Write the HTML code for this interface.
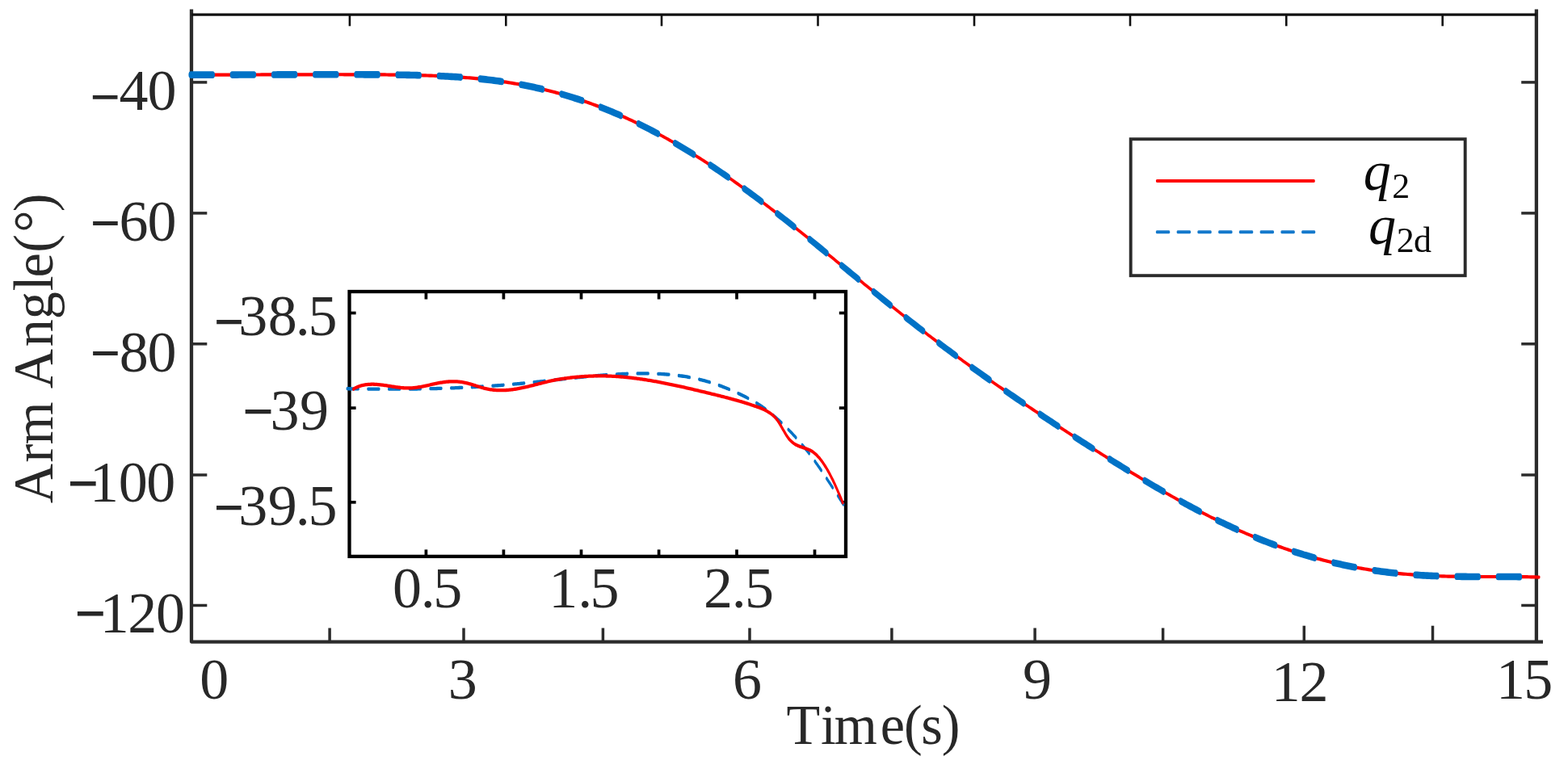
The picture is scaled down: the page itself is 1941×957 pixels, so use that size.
<!DOCTYPE html>
<html lang="en"><head><meta charset="utf-8"><title>Arm angle tracking</title>
<style>html,body{margin:0;padding:0;background:#fff;overflow:hidden}svg{display:block}text{font-family:"Liberation Serif","DejaVu Serif",serif;fill:#282828;white-space:pre}.mn{stroke:#282828}.lg{fill:#0a0a0a}</style></head><body>
<svg width="1941" height="957" viewBox="0 0 1941 957">
<rect x="0" y="0" width="1941" height="957" fill="#ffffff"/>
<g>
<g stroke="#2b2b2b" stroke-width="4.3" fill="none">
<path d="M237 11.5 L237 794.6 L1910 794.6" stroke-linejoin="round"/>
<line x1="1901.9" y1="11.5" x2="1901.9" y2="794.6"/>
</g>
<line x1="237" y1="18.1" x2="1901.9" y2="18.1" stroke="#111" stroke-width="3.1"/>
<g stroke="#111" stroke-width="2.6">
<line x1="432.9" y1="18.1" x2="432.9" y2="32.3"/>
<line x1="626.3" y1="18.1" x2="626.3" y2="32.3"/>
<line x1="819" y1="18.1" x2="819" y2="32.3"/>
<line x1="1012.5" y1="18.1" x2="1012.5" y2="32.3"/>
<line x1="1206" y1="18.1" x2="1206" y2="32.3"/>
<line x1="1399" y1="18.1" x2="1399" y2="32.3"/>
<line x1="1592.3" y1="18.1" x2="1592.3" y2="32.3"/>
<line x1="1785.7" y1="18.1" x2="1785.7" y2="32.3"/>
</g>
<g stroke="#2b2b2b" stroke-width="3.5">
<line x1="408.1" y1="777.5" x2="408.1" y2="794.6"/>
<line x1="574" y1="777.5" x2="574" y2="794.6"/>
<line x1="746.4" y1="777.5" x2="746.4" y2="794.6"/>
<line x1="928" y1="777.5" x2="928" y2="794.6"/>
<line x1="1103.9" y1="777.5" x2="1103.9" y2="794.6"/>
<line x1="1281.1" y1="777.5" x2="1281.1" y2="794.6"/>
<line x1="1439.6" y1="777.5" x2="1439.6" y2="794.6"/>
<line x1="1614.3" y1="774.7" x2="1614.3" y2="794.6"/>
<line x1="1773.5" y1="774.7" x2="1773.5" y2="794.6"/>
<line x1="237" y1="101.9" x2="256.3" y2="101.9"/>
<line x1="1883.2" y1="101.9" x2="1901.9" y2="101.9"/>
<line x1="237" y1="263.9" x2="256.3" y2="263.9"/>
<line x1="1883.2" y1="263.9" x2="1901.9" y2="263.9"/>
<line x1="237" y1="425.8" x2="256.3" y2="425.8"/>
<line x1="1883.2" y1="425.8" x2="1901.9" y2="425.8"/>
<line x1="237" y1="588" x2="256.3" y2="588"/>
<line x1="1883.2" y1="588" x2="1901.9" y2="588"/>
<line x1="237" y1="749.5" x2="256.3" y2="749.5"/>
<line x1="1883.2" y1="749.5" x2="1901.9" y2="749.5"/>
</g>
<path d="M236.2 59.75 L238.7 59.75 L241.2 59.76 L243.7 59.76 L246.2 59.76 L248.7 59.77 L251.2 59.77 L253.7 59.77 L256.2 59.77 L258.7 59.77 L261.2 59.77 L263.7 59.77 L266.2 59.77 L268.7 59.76 L271.2 59.76 L273.7 59.76 L276.2 59.76 L278.7 59.75 L281.2 59.75 L283.7 59.74 L286.2 59.74 L288.7 59.74 L291.2 59.73 L293.8 59.73 L296.3 59.72 L298.8 59.72 L301.3 59.71 L303.8 59.71 L306.3 59.7 L308.8 59.7 L311.3 59.69 L313.8 59.69 L316.3 59.68 L318.8 59.68 L321.3 59.67 L323.8 59.66 L326.3 59.66 L328.8 59.65 L331.3 59.65 L333.8 59.64 L336.3 59.64 L338.8 59.63 L341.3 59.63 L343.8 59.62 L346.3 59.62 L348.8 59.61 L351.3 59.61 L353.8 59.61 L356.3 59.6 L358.8 59.6 L361.3 59.59 L363.8 59.59 L366.3 59.58 L368.8 59.58 L371.3 59.58 L373.8 59.57 L376.3 59.57 L378.8 59.57 L381.3 59.56 L383.8 59.56 L386.3 59.56 L388.8 59.55 L391.3 59.55 L393.8 59.55 L396.3 59.55 L398.8 59.54 L401.3 59.54 L403.9 59.54 L406.4 59.54 L408.9 59.54 L411.4 59.54 L413.9 59.53 L416.4 59.53 L418.9 59.53 L421.4 59.53 L423.9 59.53 L426.4 59.54 L428.9 59.54 L431.4 59.54 L433.9 59.54 L436.4 59.54 L438.9 59.55 L441.4 59.55 L443.9 59.55 L446.4 59.56 L448.9 59.56 L451.4 59.57 L453.9 59.57 L456.4 59.58 L458.9 59.59 L461.4 59.6 L463.9 59.61 L466.4 59.62 L468.9 59.63 L471.4 59.64 L473.9 59.65 L476.4 59.66 L478.9 59.68 L481.4 59.7 L483.9 59.71 L486.4 59.73 L488.9 59.75 L491.4 59.77 L493.9 59.8 L496.4 59.82 L498.9 59.85 L501.4 59.87 L503.9 59.9 L506.4 59.94 L508.9 59.97 L511.4 60 L513.9 60.04 L516.5 60.08 L519 60.12 L521.5 60.17 L524 60.21 L526.5 60.26 L529 60.32 L531.5 60.37 L534 60.43 L536.5 60.49 L539 60.55 L541.5 60.62 L544 60.69 L546.5 60.77 L549 60.84 L551.5 60.92 L554 61.01 L556.5 61.1 L559 61.19 L561.5 61.29 L564 61.39 L566.5 61.49 L569 61.6 L571.5 61.72 L574 61.84 L576.5 61.96 L579 62.09 L581.5 62.23 L584 62.36 L586.5 62.51 L589 62.66 L591.5 62.81 L594 62.97 L596.5 63.14 L599 63.31 L601.5 63.49 L604 63.68 L606.5 63.87 L609 64.06 L611.5 64.27 L614 64.47 L616.5 64.69 L619 64.91 L621.5 65.14 L624 65.38 L626.6 65.62 L629.1 65.87 L631.6 66.13 L634.1 66.39 L636.6 66.66 L639.1 66.94 L641.6 67.22 L644.1 67.51 L646.6 67.81 L649.1 68.12 L651.6 68.44 L654.1 68.76 L656.6 69.09 L659.1 69.43 L661.6 69.77 L664.1 70.13 L666.6 70.49 L669.1 70.86 L671.6 71.23 L674.1 71.62 L676.6 72.01 L679.1 72.41 L681.6 72.82 L684.1 73.24 L686.6 73.67 L689.1 74.1 L691.6 74.55 L694.1 75 L696.6 75.46 L699.1 75.92 L701.6 76.4 L704.1 76.88 L706.6 77.38 L709.1 77.88 L711.6 78.39 L714.1 78.91 L716.6 79.44 L719.1 79.97 L721.6 80.52 L724.1 81.07 L726.6 81.63 L729.1 82.2 L731.6 82.78 L734.1 83.37 L736.6 83.96 L739.2 84.57 L741.7 85.18 L744.2 85.8 L746.7 86.44 L749.2 87.08 L751.7 87.72 L754.2 88.38 L756.7 89.05 L759.2 89.72 L761.7 90.4 L764.2 91.09 L766.7 91.8 L769.2 92.5 L771.7 93.22 L774.2 93.95 L776.7 94.68 L779.2 95.43 L781.7 96.18 L784.2 96.94 L786.7 97.71 L789.2 98.48 L791.7 99.27 L794.2 100.06 L796.7 100.87 L799.2 101.68 L801.7 102.5 L804.2 103.32 L806.7 104.16 L809.2 105.01 L811.7 105.86 L814.2 106.72 L816.7 107.59 L819.2 108.47 L821.7 109.35 L824.2 110.25 L826.7 111.15 L829.2 112.06 L831.7 112.97 L834.2 113.9 L836.7 114.83 L839.2 115.78 L841.7 116.73 L844.2 117.68 L846.7 118.65 L849.3 119.62 L851.8 120.6 L854.3 121.59 L856.8 122.58 L859.3 123.59 L861.8 124.6 L864.3 125.62 L866.8 126.64 L869.3 127.67 L871.8 128.71 L874.3 129.76 L876.8 130.82 L879.3 131.88 L881.8 132.95 L884.3 134.02 L886.8 135.1 L889.3 136.19 L891.8 137.29 L894.3 138.39 L896.8 139.5 L899.3 140.62 L901.8 141.74 L904.3 142.87 L906.8 144 L909.3 145.14 L911.8 146.29 L914.3 147.44 L916.8 148.6 L919.3 149.77 L921.8 150.94 L924.3 152.12 L926.8 153.3 L929.3 154.49 L931.8 155.68 L934.3 156.88 L936.8 158.09 L939.3 159.3 L941.8 160.51 L944.3 161.73 L946.8 162.96 L949.3 164.19 L951.8 165.42 L954.3 166.66 L956.8 167.9 L959.3 169.15 L961.9 170.41 L964.4 171.66 L966.9 172.92 L969.4 174.19 L971.9 175.46 L974.4 176.73 L976.9 178.01 L979.4 179.29 L981.9 180.57 L984.4 181.86 L986.9 183.14 L989.4 184.44 L991.9 185.73 L994.4 187.03 L996.9 188.33 L999.4 189.64 L1001.9 190.94 L1004.4 192.25 L1006.9 193.56 L1009.4 194.87 L1011.9 196.19 L1014.4 197.5 L1016.9 198.82 L1019.4 200.14 L1021.9 201.46 L1024.4 202.78 L1026.9 204.1 L1029.4 205.43 L1031.9 206.75 L1034.4 208.08 L1036.9 209.4 L1039.4 210.73 L1041.9 212.06 L1044.4 213.38 L1046.9 214.71 L1049.4 216.04 L1051.9 217.36 L1054.4 218.69 L1056.9 220.01 L1059.4 221.34 L1061.9 222.66 L1064.4 223.99 L1066.9 225.31 L1069.4 226.63 L1072 227.95 L1074.5 229.27 L1077 230.59 L1079.5 231.9 L1082 233.22 L1084.5 234.53 L1087 235.84 L1089.5 237.15 L1092 238.46 L1094.5 239.76 L1097 241.06 L1099.5 242.36 L1102 243.66 L1104.5 244.96 L1107 246.25 L1109.5 247.54 L1112 248.82 L1114.5 250.11 L1117 251.39 L1119.5 252.67 L1122 253.94 L1124.5 255.21 L1127 256.48 L1129.5 257.75 L1132 259.01 L1134.5 260.27 L1137 261.53 L1139.5 262.78 L1142 264.03 L1144.5 265.27 L1147 266.52 L1149.5 267.75 L1152 268.99 L1154.5 270.22 L1157 271.45 L1159.5 272.67 L1162 273.89 L1164.5 275.11 L1167 276.32 L1169.5 277.53 L1172 278.74 L1174.5 279.94 L1177 281.14 L1179.5 282.34 L1182.1 283.53 L1184.6 284.72 L1187.1 285.9 L1189.6 287.08 L1192.1 288.26 L1194.6 289.43 L1197.1 290.6 L1199.6 291.77 L1202.1 292.94 L1204.6 294.1 L1207.1 295.25 L1209.6 296.41 L1212.1 297.56 L1214.6 298.71 L1217.1 299.85 L1219.6 300.99 L1222.1 302.13 L1224.6 303.27 L1227.1 304.4 L1229.6 305.53 L1232.1 306.65 L1234.6 307.78 L1237.1 308.9 L1239.6 310.01 L1242.1 311.13 L1244.6 312.24 L1247.1 313.35 L1249.6 314.46 L1252.1 315.56 L1254.6 316.66 L1257.1 317.76 L1259.6 318.86 L1262.1 319.95 L1264.6 321.04 L1267.1 322.13 L1269.6 323.22 L1272.1 324.31 L1274.6 325.39 L1277.1 326.47 L1279.6 327.55 L1282.1 328.62 L1284.6 329.7 L1287.1 330.77 L1289.6 331.84 L1292.1 332.91 L1294.7 333.98 L1297.2 335.04 L1299.7 336.1 L1302.2 337.16 L1304.7 338.22 L1307.2 339.28 L1309.7 340.33 L1312.2 341.39 L1314.7 342.44 L1317.2 343.49 L1319.7 344.54 L1322.2 345.59 L1324.7 346.63 L1327.2 347.67 L1329.7 348.72 L1332.2 349.76 L1334.7 350.8 L1337.2 351.83 L1339.7 352.87 L1342.2 353.9 L1344.7 354.93 L1347.2 355.96 L1349.7 356.99 L1352.2 358.02 L1354.7 359.04 L1357.2 360.06 L1359.7 361.08 L1362.2 362.1 L1364.7 363.12 L1367.2 364.13 L1369.7 365.15 L1372.2 366.16 L1374.7 367.16 L1377.2 368.17 L1379.7 369.18 L1382.2 370.18 L1384.7 371.18 L1387.2 372.17 L1389.7 373.17 L1392.2 374.16 L1394.7 375.15 L1397.2 376.13 L1399.7 377.12 L1402.2 378.1 L1404.8 379.08 L1407.3 380.05 L1409.8 381.02 L1412.3 381.99 L1414.8 382.96 L1417.3 383.92 L1419.8 384.88 L1422.3 385.84 L1424.8 386.79 L1427.3 387.74 L1429.8 388.68 L1432.3 389.62 L1434.8 390.56 L1437.3 391.49 L1439.8 392.42 L1442.3 393.35 L1444.8 394.27 L1447.3 395.19 L1449.8 396.1 L1452.3 397.01 L1454.8 397.91 L1457.3 398.81 L1459.8 399.71 L1462.3 400.59 L1464.8 401.48 L1467.3 402.36 L1469.8 403.23 L1472.3 404.1 L1474.8 404.97 L1477.3 405.83 L1479.8 406.68 L1482.3 407.53 L1484.8 408.37 L1487.3 409.21 L1489.8 410.04 L1492.3 410.87 L1494.8 411.69 L1497.3 412.5 L1499.8 413.31 L1502.3 414.11 L1504.8 414.91 L1507.3 415.7 L1509.8 416.48 L1512.3 417.26 L1514.8 418.03 L1517.4 418.8 L1519.9 419.56 L1522.4 420.31 L1524.9 421.06 L1527.4 421.79 L1529.9 422.53 L1532.4 423.25 L1534.9 423.97 L1537.4 424.68 L1539.9 425.39 L1542.4 426.09 L1544.9 426.78 L1547.4 427.46 L1549.9 428.14 L1552.4 428.81 L1554.9 429.48 L1557.4 430.13 L1559.9 430.78 L1562.4 431.42 L1564.9 432.06 L1567.4 432.69 L1569.9 433.31 L1572.4 433.92 L1574.9 434.53 L1577.4 435.13 L1579.9 435.72 L1582.4 436.3 L1584.9 436.88 L1587.4 437.45 L1589.9 438.02 L1592.4 438.57 L1594.9 439.12 L1597.4 439.66 L1599.9 440.19 L1602.4 440.72 L1604.9 441.24 L1607.4 441.75 L1609.9 442.26 L1612.4 442.75 L1614.9 443.24 L1617.4 443.72 L1619.9 444.2 L1622.4 444.67 L1624.9 445.13 L1627.5 445.58 L1630 446.02 L1632.5 446.46 L1635 446.89 L1637.5 447.32 L1640 447.73 L1642.5 448.14 L1645 448.54 L1647.5 448.94 L1650 449.32 L1652.5 449.7 L1655 450.07 L1657.5 450.44 L1660 450.8 L1662.5 451.15 L1665 451.49 L1667.5 451.82 L1670 452.15 L1672.5 452.47 L1675 452.79 L1677.5 453.1 L1680 453.4 L1682.5 453.69 L1685 453.97 L1687.5 454.25 L1690 454.52 L1692.5 454.79 L1695 455.05 L1697.5 455.3 L1700 455.54 L1702.5 455.78 L1705 456.01 L1707.5 456.23 L1710 456.45 L1712.5 456.66 L1715 456.86 L1717.5 457.06 L1720 457.25 L1722.5 457.44 L1725 457.62 L1727.5 457.79 L1730 457.95 L1732.5 458.11 L1735 458.27 L1737.5 458.42 L1740.1 458.56 L1742.6 458.7 L1745.1 458.83 L1747.6 458.95 L1750.1 459.07 L1752.6 459.18 L1755.1 459.29 L1757.6 459.4 L1760.1 459.5 L1762.6 459.59 L1765.1 459.68 L1767.6 459.76 L1770.1 459.84 L1772.6 459.91 L1775.1 459.98 L1777.6 460.05 L1780.1 460.11 L1782.6 460.17 L1785.1 460.22 L1787.6 460.27 L1790.1 460.32 L1792.6 460.36 L1795.1 460.4 L1797.6 460.43 L1800.1 460.46 L1802.6 460.49 L1805.1 460.52 L1807.6 460.54 L1810.1 460.56 L1812.6 460.58 L1815.1 460.59 L1817.6 460.61 L1820.1 460.62 L1822.6 460.63 L1825.1 460.63 L1827.6 460.64 L1830.1 460.64 L1832.6 460.65 L1835.1 460.65 L1837.6 460.65 L1840.1 460.65 L1842.6 460.65 L1845.1 460.65 L1847.6 460.65 L1850.2 460.65 L1852.7 460.65 L1855.2 460.65 L1857.7 460.65 L1860.2 460.65 L1862.7 460.65 L1865.2 460.65 L1867.7 460.66 L1870.2 460.67 L1872.7 460.67 L1875.2 460.68 L1877.7 460.69 L1880.2 460.71 L1882.7 460.72 L1885.2 460.74 L1887.7 460.77 L1890.2 460.79 L1892.7 460.82 L1895.2 460.85 L1897.7 460.89 L1900.2 460.93 L1902.7 460.97 L1905.2 461.02" fill="none" stroke="#ff0000" stroke-width="2.71" stroke-linecap="round" stroke-linejoin="round" transform="scale(1,1.55)"/>
<path d="M236.2 59.75 L238.7 59.75 L241.2 59.76 L243.7 59.76 L246.2 59.76 L248.7 59.77 L251.2 59.77 L253.7 59.77 L256.2 59.77 L258.7 59.77 L261.2 59.77 L263.2 59.77M287.4 59.74 L288.7 59.74 L291.2 59.73 L293.7 59.73 L296.2 59.72 L298.7 59.72 L301.2 59.71 L303.7 59.71 L306.2 59.7 L308.7 59.7 L311.2 59.69 L313.7 59.69 L314.4 59.68M338.6 59.63 L338.7 59.63 L341.3 59.63 L343.8 59.62 L346.3 59.62 L348.8 59.61 L351.3 59.61 L353.8 59.61 L356.3 59.6 L358.8 59.6 L361.3 59.59 L363.8 59.59 L365.6 59.59M389.8 59.55 L391.3 59.55 L393.8 59.55 L396.3 59.55 L398.8 59.54 L401.3 59.54 L403.8 59.54 L406.3 59.54 L408.8 59.54 L411.3 59.54 L413.8 59.54 L416.3 59.53 L416.8 59.53M441 59.55 L441.3 59.55 L443.8 59.55 L446.3 59.56 L448.8 59.56 L451.3 59.57 L453.8 59.57 L456.3 59.58 L458.8 59.59 L461.3 59.6 L463.8 59.6 L466.3 59.61 L468 59.62M492.2 59.78 L493.8 59.8 L496.3 59.82 L498.8 59.85 L501.3 59.87 L503.8 59.9 L506.3 59.93 L508.8 59.97 L511.3 60 L513.8 60.04 L516.3 60.08 L518.8 60.12 L519.2 60.13M543.4 60.67 L543.8 60.69 L546.3 60.76 L548.9 60.84 L551.4 60.92 L553.9 61 L556.4 61.09 L558.9 61.19 L561.4 61.28 L563.9 61.38 L566.4 61.49 L568.9 61.6 L570.3 61.67M594.4 63 L596.4 63.13 L598.9 63.3 L601.4 63.48 L603.9 63.66 L606.4 63.85 L608.9 64.05 L611.4 64.25 L613.9 64.46 L616.4 64.68 L618.9 64.9 L621.2 65.11M645.1 67.64 L646.4 67.79 L648.9 68.1 L651.4 68.41 L653.9 68.74 L656.4 69.07 L658.9 69.4 L661.4 69.75 L663.9 70.1 L666.4 70.46 L668.9 70.83 L671.4 71.21 L671.5 71.23M695 75.15 L696.4 75.42 L698.9 75.89 L701.4 76.36 L703.9 76.85 L706.4 77.34 L708.9 77.84 L711.4 78.35 L713.9 78.87 L716.4 79.39 L718.9 79.93 L720.7 80.32M743.5 85.64 L743.9 85.75 L746.4 86.38 L748.9 87.02 L751.4 87.67 L753.9 88.32 L756.4 88.99 L759 89.66 L761.5 90.34 L764 91.03 L766.5 91.73 L768.4 92.29M790.4 98.86 L791.5 99.2 L794 99.99 L796.5 100.79 L799 101.6 L801.5 102.42 L804 103.25 L806.5 104.08 L809 104.92 L811.5 105.78 L814 106.64 L814.4 106.79M835.6 114.4 L836.5 114.74 L839 115.68 L841.5 116.63 L844 117.58 L846.5 118.55 L849 119.52 L851.5 120.5 L854 121.49 L856.5 122.48 L858.7 123.37M879.1 131.79 L881.5 132.83 L884 133.9 L886.5 134.99 L889 136.07 L891.5 137.17 L894 138.27 L896.5 139.38 L899 140.49 L901.4 141.57M921.1 150.62 L921.5 150.81 L924 151.98 L926.5 153.16 L929 154.35 L931.5 155.54 L934 156.74 L936.5 157.95 L939 159.15 L941.5 160.37 L942.8 161M962 170.5 L964 171.51 L966.6 172.77 L969.1 174.03 L971.6 175.3 L974.1 176.57 L976.6 177.85 L979.1 179.13 L981.6 180.41 L983.2 181.28M1002.1 191.06 L1004.1 192.08 L1006.6 193.39 L1009.1 194.7 L1011.6 196.02 L1014.1 197.33 L1016.6 198.65 L1019.1 199.97 L1021.6 201.29 L1023 202.06M1041.7 211.96 L1044.1 213.2 L1046.6 214.53 L1049.1 215.86 L1051.6 217.18 L1054.1 218.51 L1056.6 219.83 L1059.1 221.16 L1061.6 222.48 L1062.6 223.02M1081.4 232.9 L1081.6 233.03 L1084.1 234.34 L1086.6 235.65 L1089.1 236.96 L1091.6 238.27 L1094.1 239.57 L1096.6 240.88 L1099.1 242.18 L1101.6 243.47 L1102.3 243.85M1121.3 253.58 L1121.6 253.75 L1124.1 255.03 L1126.6 256.29 L1129.1 257.56 L1131.6 258.82 L1134.1 260.08 L1136.6 261.34 L1139.1 262.59 L1141.6 263.84 L1142.6 264.3M1161.8 273.77 L1164.1 274.92 L1166.6 276.13 L1169.1 277.34 L1171.6 278.55 L1174.2 279.75 L1176.7 280.95 L1179.2 282.15 L1181.7 283.34 L1183.4 284.19M1203 293.37 L1204.2 293.91 L1206.7 295.07 L1209.2 296.22 L1211.7 297.37 L1214.2 298.52 L1216.7 299.66 L1219.2 300.8 L1221.7 301.94 L1224.2 303.08 L1225 303.46M1244.9 312.37 L1246.7 313.16 L1249.2 314.27 L1251.7 315.37 L1254.2 316.47 L1256.7 317.57 L1259.2 318.67 L1261.7 319.76 L1264.2 320.86 L1266.7 321.95 L1267.2 322.17M1287.3 330.85 L1289.2 331.65 L1291.7 332.72 L1294.2 333.79 L1296.7 334.85 L1299.2 335.91 L1301.7 336.97 L1304.2 338.03 L1306.7 339.09 L1309.2 340.15 L1309.9 340.43M1330.2 348.92 L1331.7 349.57 L1334.2 350.6 L1336.7 351.64 L1339.2 352.68 L1341.7 353.71 L1344.2 354.74 L1346.7 355.77 L1349.2 356.8 L1351.7 357.82 L1352.9 358.31M1373.4 366.63 L1374.2 366.97 L1376.7 367.98 L1379.2 368.98 L1381.8 369.98 L1384.3 370.98 L1386.8 371.98 L1389.3 372.98 L1391.8 373.97 L1394.3 374.96 L1396.4 375.79M1417.1 383.86 L1419.3 384.69 L1421.8 385.65 L1424.3 386.6 L1426.8 387.55 L1429.3 388.49 L1431.8 389.44 L1434.3 390.37 L1436.8 391.31 L1439.3 392.24 L1440.4 392.65M1461.5 400.31 L1461.8 400.41 L1464.3 401.3 L1466.8 402.18 L1469.3 403.05 L1471.8 403.92 L1474.3 404.79 L1476.8 405.65 L1479.3 406.5 L1481.8 407.35 L1484.3 408.2 L1485.3 408.53M1506.9 415.56 L1509.3 416.32 L1511.8 417.1 L1514.3 417.87 L1516.8 418.64 L1519.3 419.4 L1521.8 420.15 L1524.3 420.9 L1526.8 421.64 L1529.3 422.37 L1531.3 422.96M1553.6 429.13 L1554.3 429.33 L1556.8 429.99 L1559.3 430.64 L1561.8 431.28 L1564.3 431.92 L1566.8 432.55 L1569.3 433.17 L1571.8 433.79 L1574.3 434.39 L1576.8 434.99 L1578.7 435.44M1601.6 440.55 L1601.9 440.6 L1604.4 441.12 L1606.9 441.63 L1609.4 442.14 L1611.9 442.64 L1614.4 443.13 L1616.9 443.61 L1619.4 444.09 L1621.9 444.56 L1624.4 445.02 L1626.9 445.47 L1627.4 445.58M1650.9 449.46 L1651.9 449.61 L1654.4 449.99 L1656.9 450.35 L1659.4 450.71 L1661.9 451.06 L1664.4 451.41 L1666.9 451.75 L1669.4 452.08 L1671.9 452.4 L1674.4 452.71 L1676.9 453.02 L1677.3 453.07M1701.2 455.65 L1701.9 455.72 L1704.4 455.95 L1706.9 456.18 L1709.4 456.4 L1711.9 456.61 L1714.4 456.82 L1716.9 457.01 L1719.4 457.21 L1721.9 457.39 L1724.4 457.57 L1726.9 457.75 L1727.9 457.82M1752.1 459.16 L1754.4 459.27 L1756.9 459.37 L1759.4 459.47 L1761.9 459.57 L1764.4 459.66 L1766.9 459.74 L1769.4 459.82 L1771.9 459.9 L1774.4 459.97 L1776.9 460.03 L1779 460.09M1803.2 460.5 L1804.5 460.51 L1807 460.53 L1809.5 460.55 L1812 460.57 L1814.5 460.59 L1817 460.6 L1819.5 460.61 L1822 460.62 L1824.5 460.63 L1827 460.64 L1829.5 460.64 L1830.2 460.64M1854.4 460.65 L1854.5 460.65 L1857 460.65 L1859.5 460.65 L1862 460.65 L1864.5 460.65 L1867 460.66 L1869.5 460.66 L1872 460.67 L1874.5 460.68 L1877 460.69 L1879.5 460.7 L1881.4 460.72" fill="none" stroke="#0072c6" stroke-width="5.55" stroke-linecap="round" stroke-linejoin="round" transform="scale(1,1.55)"/>
<g stroke="#000" fill="none">
<rect x="432.5" y="361" width="614.5" height="327.9" stroke-width="4.3"/>
<g stroke-width="3.7">
<line x1="527.4" y1="361" x2="527.4" y2="370.5"/>
<line x1="527.4" y1="680.4" x2="527.4" y2="688.9"/>
<line x1="623.4" y1="361" x2="623.4" y2="370.5"/>
<line x1="623.4" y1="680.4" x2="623.4" y2="688.9"/>
<line x1="719.5" y1="361" x2="719.5" y2="370.5"/>
<line x1="719.5" y1="680.4" x2="719.5" y2="688.9"/>
<line x1="815.6" y1="361" x2="815.6" y2="370.5"/>
<line x1="815.6" y1="680.4" x2="815.6" y2="688.9"/>
<line x1="912" y1="361" x2="912" y2="370.5"/>
<line x1="912" y1="680.4" x2="912" y2="688.9"/>
<line x1="1008.5" y1="361" x2="1008.5" y2="370.5"/>
<line x1="1008.5" y1="680.4" x2="1008.5" y2="688.9"/>
<line x1="432.5" y1="387.5" x2="440.6" y2="387.5"/>
<line x1="1038.8" y1="387.5" x2="1047" y2="387.5"/>
<line x1="432.5" y1="505.1" x2="440.6" y2="505.1"/>
<line x1="1038.8" y1="505.1" x2="1047" y2="505.1"/>
<line x1="432.5" y1="621.8" x2="440.6" y2="621.8"/>
<line x1="1041.5" y1="621.8" x2="1047" y2="621.8"/>
</g></g>
<path d="M429.9 310.46 L431.4 310.47 L433 310.49 L434.5 310.51 L436.1 310.53 L437.6 310.54 L439.1 310.56 L440.7 310.57 L442.2 310.59 L443.5 310.6M455.6 310.69 L456.1 310.7 L457.6 310.71 L459.1 310.72 L460.7 310.72 L462.2 310.73 L463.8 310.74 L465.3 310.75 L466.8 310.75 L468.4 310.76 L469.2 310.76M481.3 310.79 L482.2 310.79 L483.8 310.79 L485.3 310.79 L486.8 310.79 L488.4 310.79 L489.9 310.78 L491.5 310.78 L493 310.78 L494.5 310.77 L494.9 310.77M507 310.71 L508.4 310.7 L509.9 310.69 L511.5 310.68 L513 310.67 L514.6 310.66 L516.1 310.64 L517.6 310.63 L519.2 310.61 L520.6 310.6M532.7 310.44 L533 310.44 L534.6 310.42 L536.1 310.39 L537.6 310.37 L539.2 310.34 L540.7 310.32 L542.3 310.29 L543.8 310.26 L545.3 310.23 L546.3 310.21M558.4 309.95 L559.2 309.93 L560.7 309.9 L562.3 309.86 L563.8 309.82 L565.3 309.78 L566.9 309.74 L568.4 309.69 L570 309.65 L571.5 309.61 L572 309.59M584.1 309.21 L585.3 309.17 L586.9 309.12 L588.4 309.06 L590 309.01 L591.5 308.95 L593 308.89 L594.6 308.83 L596.1 308.78 L597.6 308.72M609.7 308.2 L610 308.19 L611.5 308.12 L613.1 308.05 L614.6 307.98 L616.1 307.91 L617.7 307.83 L619.2 307.76 L620.7 307.68 L622.3 307.6 L623.3 307.55M635.3 306.9 L636.1 306.85 L637.7 306.76 L639.2 306.67 L640.8 306.58 L642.3 306.49 L643.8 306.4 L645.4 306.3 L646.9 306.2 L648.5 306.11 L648.9 306.08M660.9 305.29 L662.3 305.19 L663.8 305.09 L665.4 304.98 L666.9 304.87 L668.5 304.77 L670 304.66 L671.5 304.55 L673.1 304.44 L674.4 304.35M686.5 303.49 L686.9 303.46 L688.5 303.35 L690 303.24 L691.5 303.13 L693.1 303.02 L694.6 302.91 L696.2 302.8 L697.7 302.69 L699.2 302.59 L700 302.54M712 301.71 L713.1 301.64 L714.6 301.53 L716.2 301.43 L717.7 301.33 L719.3 301.23 L720.8 301.13 L722.3 301.03 L723.9 300.94 L725.4 300.84 L725.5 300.83M737.6 300.13 L737.7 300.12 L739.3 300.04 L740.8 299.95 L742.3 299.87 L743.9 299.79 L745.4 299.71 L747 299.64 L748.5 299.56 L750 299.49 L751.1 299.44M763.2 298.94 L763.9 298.92 L765.4 298.87 L767 298.82 L768.5 298.77 L770 298.72 L771.6 298.68 L773.1 298.64 L774.7 298.6 L776.2 298.56 L776.8 298.55M788.9 298.36 L790 298.35 L791.6 298.34 L793.1 298.34 L794.7 298.33 L796.2 298.33 L797.7 298.33 L799.3 298.34 L800.8 298.35 L802.4 298.36 L802.5 298.36M814.6 298.59 L814.7 298.6 L816.2 298.64 L817.8 298.69 L819.3 298.75 L820.8 298.81 L822.4 298.88 L823.9 298.95 L825.4 299.02 L827 299.1 L828.2 299.17M840.2 300 L840.8 300.06 L842.4 300.19 L843.9 300.33 L845.5 300.48 L847 300.63 L848.5 300.79 L850.1 300.96 L851.6 301.13 L853.2 301.31 L853.6 301.37M865.5 302.99 L867 303.23 L868.5 303.48 L870.1 303.74 L871.6 304 L873.2 304.27 L874.7 304.55 L876.2 304.84 L877.8 305.14 L878.6 305.3M890.1 307.78 L890.1 307.78 L891.6 308.15 L893.2 308.52 L894.7 308.9 L896.2 309.28 L897.8 309.67 L899.3 310.07 L900.9 310.48 L902.4 310.89 L902.7 310.98M913.8 314.15 L914.7 314.44 L916.3 314.91 L917.8 315.39 L919.3 315.88 L920.9 316.37 L922.4 316.87 L924 317.37 L925.5 317.89 L926 318.05M936.5 321.89 L937.8 322.42 L939.3 323.05 L940.9 323.7 L942.4 324.37 L944 325.05 L945.5 325.76 L947 326.48 L947.7 326.82M957.2 331.69 L957.8 332.04 L959.3 332.9 L960.9 333.77 L962.4 334.66 L964 335.57 L965.5 336.49 L967 337.42 L967.3 337.57M975.9 343.06 L976.3 343.33 L977.8 344.36 L979.4 345.4 L980.9 346.46 L982.4 347.52 L984 348.6 L985.2 349.46M993.1 355.34 L993.2 355.4 L994.7 356.6 L996.3 357.82 L997.8 359.06 L999.4 360.32 L1000.9 361.61 L1001.6 362.2M1008.8 368.48 L1010.1 369.7 L1011.7 371.11 L1013.2 372.53 L1014.8 373.97 L1016.3 375.42 L1016.6 375.68M1023.3 382.17 L1024 382.84 L1025.5 384.35 L1027.1 385.87 L1028.6 387.39 L1030.1 388.92 L1030.7 389.51M1037.3 396.08 L1037.8 396.64 L1039.4 398.19 L1040.9 399.73 L1042.5 401.28 L1044 402.83" fill="none" stroke="#0072c6" stroke-width="2.77" stroke-linecap="round" stroke-linejoin="round" transform="scale(1,1.55)"/>
<path d="M437.4 310.75 L438.6 310.3 L439.8 309.88 L441 309.5 L442.3 309.15 L443.5 308.83 L444.7 308.53 L445.9 308.27 L447.1 308.03 L448.3 307.83 L449.5 307.64 L450.8 307.48 L452 307.34 L453.2 307.23 L454.4 307.13 L455.6 307.06 L456.8 307 L458 306.96 L459.3 306.93 L460.5 306.92 L461.7 306.92 L462.9 306.94 L464.1 306.97 L465.3 307.01 L466.5 307.06 L467.8 307.12 L469 307.19 L470.2 307.27 L471.4 307.35 L472.6 307.45 L473.8 307.55 L475 307.66 L476.2 307.77 L477.5 307.88 L478.7 308 L479.9 308.12 L481.1 308.25 L482.3 308.37 L483.5 308.5 L484.7 308.62 L486 308.74 L487.2 308.87 L488.4 308.99 L489.6 309.1 L490.8 309.21 L492 309.32 L493.2 309.42 L494.5 309.52 L495.7 309.61 L496.9 309.69 L498.1 309.76 L499.3 309.83 L500.5 309.88 L501.7 309.93 L503 309.96 L504.2 309.98 L505.4 309.98 L506.6 309.98 L507.8 309.96 L509 309.92 L510.2 309.87 L511.5 309.81 L512.7 309.73 L513.9 309.65 L515.1 309.55 L516.3 309.44 L517.5 309.32 L518.7 309.19 L520 309.06 L521.2 308.92 L522.4 308.77 L523.6 308.61 L524.8 308.45 L526 308.29 L527.2 308.12 L528.5 307.95 L529.7 307.78 L530.9 307.6 L532.1 307.42 L533.3 307.25 L534.5 307.07 L535.7 306.9 L537 306.72 L538.2 306.55 L539.4 306.39 L540.6 306.22 L541.8 306.06 L543 305.91 L544.2 305.77 L545.4 305.63 L546.7 305.5 L547.9 305.37 L549.1 305.26 L550.3 305.16 L551.5 305.06 L552.7 304.98 L553.9 304.9 L555.2 304.84 L556.4 304.79 L557.6 304.75 L558.8 304.72 L560 304.71 L561.2 304.7 L562.4 304.71 L563.7 304.73 L564.9 304.76 L566.1 304.81 L567.3 304.87 L568.5 304.94 L569.7 305.03 L570.9 305.13 L572.2 305.25 L573.4 305.38 L574.6 305.53 L575.8 305.69 L577 305.86 L578.2 306.05 L579.4 306.25 L580.7 306.46 L581.9 306.68 L583.1 306.91 L584.3 307.15 L585.5 307.39 L586.7 307.63 L587.9 307.88 L589.2 308.13 L590.4 308.38 L591.6 308.63 L592.8 308.87 L594 309.11 L595.2 309.35 L596.4 309.57 L597.7 309.8 L598.9 310.01 L600.1 310.21 L601.3 310.4 L602.5 310.57 L603.7 310.74 L604.9 310.89 L606.1 311.03 L607.4 311.15 L608.6 311.26 L609.8 311.36 L611 311.45 L612.2 311.53 L613.4 311.6 L614.6 311.65 L615.9 311.69 L617.1 311.73 L618.3 311.75 L619.5 311.76 L620.7 311.76 L621.9 311.75 L623.1 311.73 L624.4 311.7 L625.6 311.66 L626.8 311.62 L628 311.56 L629.2 311.49 L630.4 311.42 L631.6 311.34 L632.9 311.25 L634.1 311.15 L635.3 311.04 L636.5 310.93 L637.7 310.81 L638.9 310.68 L640.1 310.55 L641.4 310.41 L642.6 310.27 L643.8 310.12 L645 309.96 L646.2 309.8 L647.4 309.64 L648.6 309.47 L649.9 309.3 L651.1 309.12 L652.3 308.94 L653.5 308.75 L654.7 308.57 L655.9 308.37 L657.1 308.18 L658.4 307.99 L659.6 307.79 L660.8 307.59 L662 307.39 L663.2 307.19 L664.4 306.99 L665.6 306.79 L666.9 306.59 L668.1 306.39 L669.3 306.19 L670.5 305.99 L671.7 305.79 L672.9 305.6 L674.1 305.41 L675.3 305.22 L676.6 305.03 L677.8 304.84 L679 304.66 L680.2 304.48 L681.4 304.31 L682.6 304.14 L683.8 303.97 L685.1 303.81 L686.3 303.66 L687.5 303.51 L688.7 303.36 L689.9 303.22 L691.1 303.08 L692.3 302.95 L693.6 302.82 L694.8 302.69 L696 302.57 L697.2 302.45 L698.4 302.33 L699.6 302.22 L700.8 302.12 L702.1 302.01 L703.3 301.91 L704.5 301.81 L705.7 301.71 L706.9 301.62 L708.1 301.53 L709.3 301.44 L710.6 301.36 L711.8 301.28 L713 301.2 L714.2 301.12 L715.4 301.05 L716.6 300.98 L717.8 300.92 L719.1 300.85 L720.3 300.79 L721.5 300.74 L722.7 300.68 L723.9 300.63 L725.1 300.58 L726.3 300.54 L727.6 300.5 L728.8 300.46 L730 300.43 L731.2 300.39 L732.4 300.36 L733.6 300.34 L734.8 300.32 L736.1 300.3 L737.3 300.28 L738.5 300.27 L739.7 300.26 L740.9 300.25 L742.1 300.25 L743.3 300.25 L744.5 300.25 L745.8 300.26 L747 300.27 L748.2 300.28 L749.4 300.3 L750.6 300.32 L751.8 300.34 L753 300.37 L754.3 300.4 L755.5 300.43 L756.7 300.46 L757.9 300.5 L759.1 300.54 L760.3 300.58 L761.5 300.63 L762.8 300.68 L764 300.73 L765.2 300.79 L766.4 300.84 L767.6 300.9 L768.8 300.97 L770 301.03 L771.3 301.1 L772.5 301.17 L773.7 301.25 L774.9 301.32 L776.1 301.4 L777.3 301.48 L778.5 301.57 L779.8 301.65 L781 301.74 L782.2 301.83 L783.4 301.93 L784.6 302.02 L785.8 302.12 L787 302.22 L788.3 302.33 L789.5 302.43 L790.7 302.54 L791.9 302.65 L793.1 302.76 L794.3 302.87 L795.5 302.99 L796.8 303.1 L798 303.22 L799.2 303.35 L800.4 303.47 L801.6 303.6 L802.8 303.72 L804 303.85 L805.3 303.98 L806.5 304.12 L807.7 304.25 L808.9 304.39 L810.1 304.53 L811.3 304.67 L812.5 304.81 L813.7 304.95 L815 305.1 L816.2 305.24 L817.4 305.39 L818.6 305.54 L819.8 305.69 L821 305.84 L822.2 306 L823.5 306.15 L824.7 306.31 L825.9 306.47 L827.1 306.63 L828.3 306.79 L829.5 306.95 L830.7 307.11 L832 307.28 L833.2 307.44 L834.4 307.61 L835.6 307.78 L836.8 307.95 L838 308.12 L839.2 308.29 L840.5 308.46 L841.7 308.63 L842.9 308.81 L844.1 308.98 L845.3 309.16 L846.5 309.34 L847.7 309.51 L849 309.69 L850.2 309.87 L851.4 310.05 L852.6 310.23 L853.8 310.41 L855 310.59 L856.2 310.78 L857.5 310.96 L858.7 311.14 L859.9 311.33 L861.1 311.51 L862.3 311.7 L863.5 311.88 L864.7 312.07 L866 312.26 L867.2 312.44 L868.4 312.63 L869.6 312.82 L870.8 313.01 L872 313.19 L873.2 313.38 L874.5 313.57 L875.7 313.76 L876.9 313.95 L878.1 314.14 L879.3 314.33 L880.5 314.52 L881.7 314.71 L882.9 314.9 L884.2 315.09 L885.4 315.28 L886.6 315.48 L887.8 315.67 L889 315.87 L890.2 316.06 L891.4 316.26 L892.7 316.46 L893.9 316.66 L895.1 316.86 L896.3 317.06 L897.5 317.26 L898.7 317.46 L899.9 317.67 L901.2 317.88 L902.4 318.08 L903.6 318.29 L904.8 318.5 L906 318.72 L907.2 318.93 L908.4 319.15 L909.7 319.37 L910.9 319.59 L912.1 319.81 L913.3 320.03 L914.5 320.26 L915.7 320.49 L916.9 320.72 L918.2 320.95 L919.4 321.19 L920.6 321.43 L921.8 321.67 L923 321.91 L924.2 322.16 L925.4 322.4 L926.7 322.65 L927.9 322.91 L929.1 323.16 L930.3 323.42 L931.5 323.69 L932.7 323.95 L933.9 324.22 L935.2 324.49 L936.4 324.76 L937.6 325.04 L938.8 325.33 L940 325.62 L941.2 325.92 L942.4 326.23 L943.6 326.55 L944.9 326.9 L946.1 327.26 L947.3 327.65 L948.5 328.05 L949.7 328.49 L950.9 328.96 L952.1 329.45 L953.4 329.98 L954.6 330.55 L955.8 331.16 L957 331.83 L958.2 332.57 L959.4 333.38 L960.6 334.29 L961.9 335.29 L963.1 336.39 L964.3 337.58 L965.5 338.85 L966.7 340.17 L967.9 341.53 L969.1 342.91 L970.4 344.28 L971.6 345.64 L972.8 346.94 L974 348.18 L975.2 349.32 L976.4 350.36 L977.6 351.28 L978.9 352.11 L980.1 352.85 L981.3 353.5 L982.5 354.09 L983.7 354.62 L984.9 355.08 L986.1 355.51 L987.4 355.89 L988.6 356.23 L989.8 356.54 L991 356.83 L992.2 357.11 L993.4 357.37 L994.6 357.62 L995.9 357.88 L997.1 358.14 L998.3 358.42 L999.5 358.71 L1000.7 359.03 L1001.9 359.38 L1003.1 359.77 L1004.4 360.2 L1005.6 360.68 L1006.8 361.21 L1008 361.81 L1009.2 362.46 L1010.4 363.18 L1011.6 363.95 L1012.8 364.79 L1014.1 365.68 L1015.3 366.63 L1016.5 367.63 L1017.7 368.69 L1018.9 369.8 L1020.1 370.97 L1021.3 372.18 L1022.6 373.45 L1023.8 374.76 L1025 376.13 L1026.2 377.54 L1027.4 379 L1028.6 380.5 L1029.8 382.05 L1031.1 383.64 L1032.3 385.27 L1033.5 386.95 L1034.7 388.66 L1035.9 390.41 L1037.1 392.2 L1038.3 394.02 L1039.6 395.86 L1040.8 397.73 L1042 399.62 L1043.2 401.53" fill="none" stroke="#ff0000" stroke-width="2.77" stroke-linecap="round" stroke-linejoin="round" transform="scale(1,1.55)"/>
<rect x="1399.7" y="172.2" width="414" height="169" fill="#fff" stroke="#2b2b2b" stroke-width="3.9"/>
<path d="M1432.2 144.52 L1626.5 144.52" fill="none" stroke="#ff0000" stroke-width="2.71" stroke-linecap="round" stroke-linejoin="round" transform="scale(1,1.55)"/>
<path d="M1432.1 185.35 L1447 185.35M1457.9 185.35 L1472.8 185.35M1483.6 185.35 L1498.5 185.35M1509.4 185.35 L1524.3 185.35M1535.1 185.35 L1550 185.35M1560.9 185.35 L1575.8 185.35M1586.7 185.35 L1601.6 185.35M1612.4 185.35 L1627 185.35" fill="none" stroke="#1479cc" stroke-width="2.65" stroke-linecap="round" stroke-linejoin="round" transform="scale(1,1.55)"/>
<text class="lg" x="1687.8" y="235.2" font-size="68" font-style="italic">q<tspan x="1723.2" y="244.5" font-size="44" font-style="normal">2</tspan></text>
<text class="lg" x="1694" y="301.9" font-size="68" font-style="italic">q<tspan x="1728.7 1750.1" y="312.1" font-size="44" font-style="normal">2d</tspan></text>
<text font-size="72"><tspan class="mn" x="112.6" y="140.8" font-size="62.7" stroke-width="1.47">−</tspan><tspan x="147.6 182.6" y="136">40</tspan></text>
<text font-size="72"><tspan class="mn" x="112.9" y="297.3" font-size="61.7" stroke-width="1.92">−</tspan><tspan x="147.5 182.5" y="297.6">60</tspan></text>
<text font-size="72"><tspan class="mn" x="112.9" y="457.8" font-size="61.7" stroke-width="1.92">−</tspan><tspan x="147.8 182.5" y="459.8">80</tspan></text>
<text font-size="72"><tspan class="mn" x="85" y="619.5" font-size="63.4" stroke-width="2.13">−</tspan><tspan x="111.1 146.8 181.3" y="620.6">100</tspan></text>
<text font-size="72"><tspan class="mn" x="94.1" y="780.8" font-size="63.4" stroke-width="2.33">−</tspan><tspan x="123.7 158.3 192.9" y="782.5">120</tspan></text>
<text font-size="72"><tspan x="247.2" y="865.2">0</tspan></text>
<text font-size="72"><tspan x="554.7" y="865.2">3</tspan></text>
<text font-size="72"><tspan x="906.9" y="865.2">6</tspan></text>
<text font-size="72"><tspan x="1266.1" y="865.2">9</tspan></text>
<text font-size="72"><tspan x="1573.7 1608.5" y="867.9">12</tspan></text>
<text font-size="72"><tspan x="1852 1886.2" y="865.2">15</tspan></text>
<text font-size="72"><tspan class="mn" x="266.2" y="419.4" font-size="61.2" stroke-width="2.24">−</tspan><tspan x="295.2 331.8 365.7 381.6" y="415.1">38.5</tspan></text>
<text font-size="72"><tspan class="mn" x="301.6" y="531.3" font-size="63.9" stroke-width="2.01">−</tspan><tspan x="334.5 371.1" y="531.6">39</tspan></text>
<text font-size="72"><tspan class="mn" x="266.1" y="648.7" font-size="61.4" stroke-width="2.13">−</tspan><tspan x="295.2 331.8 365.7 381.6" y="649.7">39.5</tspan></text>
<text font-size="72"><tspan x="486 520.8 536.3" y="752.4">0.5</tspan></text>
<text font-size="72"><tspan x="679.3 715.2 730.6" y="752.4">1.5</tspan></text>
<text font-size="72"><tspan x="871.1 905.8 921.9" y="752.4">2.5</tspan></text>
<text font-size="70" transform="scale(0.975,1)" x="998.4 1042 1059.3 1117.7 1147.8 1169.6 1195.6" y="921">Time(s)</text>
<text font-size="70" transform="translate(65,0) rotate(-90) scale(0.975,1)" x="-639.3 -587.3 -564.7 -502.6 -493.7 -440.3 -405.3 -369.6 -352.4 -320.8 -295.1 -269.1" y="0">Arm Angle(°)</text>
</g>
</svg></body></html>
